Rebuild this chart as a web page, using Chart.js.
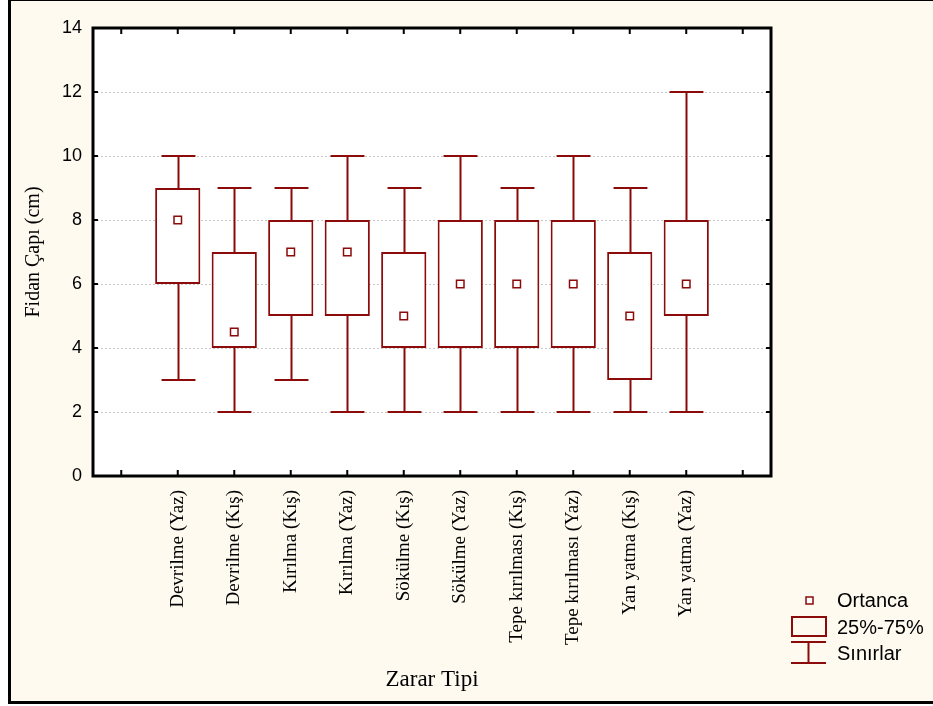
<!DOCTYPE html>
<html lang="tr">
<head>
<meta charset="UTF-8">
<title>Zarar Tipi - Fidan Çapı</title>
<script src="https://cdn.jsdelivr.net/npm/chart.js"></script>
<style>
  html, body { margin: 0; padding: 0; background: #ffffff; }
  #frame {
    position: absolute; left: 8px; top: -2px; width: 940px; height: 706px;
    box-sizing: border-box; border: 3px solid #000; background: #fefaf0;
  }
  #wrap { position: absolute; left: 0; top: 0; width: 933px; height: 706px; }
</style>
</head>
<body>
<div id="frame"></div>
<div id="wrap"><canvas id="myChart" width="933" height="706"></canvas></div>

<script>
// kategoriler (başta ve sonda boş yer var)
const kategoriler = ['', 'Devrilme (Yaz)', 'Devrilme (Kış)', 'Kırılma (Kış)', 'Kırılma (Yaz)',
  'Sökülme (Kış)', 'Sökülme (Yaz)', 'Tepe kırılması (Kış)', 'Tepe kırılması (Yaz)',
  'Yan yatma (Kış)', 'Yan yatma (Yaz)', ''];

// değerler
const enKucuk = [null, 3, 2, 3, 2, 2, 2, 2, 2, 2, 2, null];
const ceyrek1 = [null, 6, 4, 5, 5, 4, 4, 4, 4, 3, 5, null];
const ceyrek3 = [null, 9, 7, 8, 8, 7, 8, 8, 8, 7, 8, null];
const enBuyuk = [null, 10, 9, 9, 10, 9, 10, 9, 10, 9, 12, null];
const ortanca = [null, 8, 4.5, 7, 7, 5, 6, 6, 6, 5, 6, null];

const yTikler = [0, 2, 4, 6, 8, 10, 12, 14];

const KIRMIZI = '#8b0a0a';

// kutular: [Q1, Q3]
const kutular = ceyrek1.map((q, i) => q === null ? null : [q, ceyrek3[i]]);

// çizim alanı arka planı, bıyıklar, çerçeve ve lejant
const kutuGrafigi = {
  id: 'kutuGrafigi',
  beforeDraw(chart) {
    const { ctx, chartArea: a } = chart;
    ctx.save();
    ctx.fillStyle = '#ffffff';
    ctx.fillRect(a.left, a.top, a.right - a.left, a.bottom - a.top);
    ctx.restore();
  },
  beforeDatasetsDraw(chart) {
    const { ctx, scales: { x, y } } = chart;
    const aralik = x.getPixelForValue(1) - x.getPixelForValue(0);
    const kapak = aralik * 0.3;
    ctx.save();
    ctx.strokeStyle = KIRMIZI;
    ctx.lineWidth = 2;
    enKucuk.forEach((mn, i) => {
      if (mn === null) return;
      const cx = Math.round(x.getPixelForValue(i)) + 0.5;
      const yMin = y.getPixelForValue(mn), yQ1 = y.getPixelForValue(ceyrek1[i]);
      const yQ3 = y.getPixelForValue(ceyrek3[i]), yMax = y.getPixelForValue(enBuyuk[i]);
      ctx.beginPath();
      ctx.moveTo(cx, yMin); ctx.lineTo(cx, yQ1);
      ctx.moveTo(cx, yQ3); ctx.lineTo(cx, yMax);
      ctx.moveTo(cx - kapak, yMin); ctx.lineTo(cx + kapak, yMin);
      ctx.moveTo(cx - kapak, yMax); ctx.lineTo(cx + kapak, yMax);
      ctx.stroke();
    });
    ctx.restore();
  },
  afterDraw(chart) {
    const { ctx, chartArea: a, scales: { x, y } } = chart;
    ctx.save();
    // iç tikler
    ctx.strokeStyle = '#000';
    ctx.lineWidth = 2;
    ctx.beginPath();
    kategoriler.forEach((k, i) => {
      const px = x.getPixelForValue(i);
      ctx.moveTo(px, a.bottom); ctx.lineTo(px, a.bottom - 6);
      ctx.moveTo(px, a.top); ctx.lineTo(px, a.top + 6);
    });
    yTikler.forEach(v => {
      const py = y.getPixelForValue(v);
      ctx.moveTo(a.left, py); ctx.lineTo(a.left + 5, py);
      ctx.moveTo(a.right, py); ctx.lineTo(a.right - 5, py);
    });
    ctx.stroke();
    // çerçeve
    ctx.lineWidth = 3;
    ctx.strokeRect(a.left, a.top, a.right - a.left, a.bottom - a.top);

    // lejant
    ctx.strokeStyle = KIRMIZI;
    ctx.lineWidth = 1.5;
    ctx.fillStyle = '#fff';
    ctx.fillRect(806, 597, 7, 7);
    ctx.strokeRect(806, 597, 7, 7);
    ctx.lineWidth = 2;
    ctx.strokeRect(792, 617, 34, 19);
    ctx.beginPath();
    ctx.moveTo(791, 642); ctx.lineTo(826, 642);
    ctx.moveTo(808.5, 642); ctx.lineTo(808.5, 663);
    ctx.moveTo(791, 663); ctx.lineTo(826, 663);
    ctx.stroke();
    ctx.fillStyle = '#000';
    ctx.font = '20px "Liberation Sans", Arial, sans-serif';
    ctx.textBaseline = 'middle';
    ctx.textAlign = 'left';
    ctx.fillText('Ortanca', 837, 601);
    ctx.fillText('25%-75%', 837, 628);
    ctx.fillText('Sınırlar', 837, 654);
    ctx.restore();
  }
};

const ctx = document.getElementById('myChart').getContext('2d');
const grafik = new Chart(ctx, {
  type: 'bar',
  data: {
    labels: kategoriler,
    datasets: [
      {
        type: 'line',
        label: 'Ortanca',
        data: ortanca,
        showLine: false,
        pointStyle: 'rect',
        pointRadius: 5.3,
        pointBackgroundColor: '#ffffff',
        pointBorderColor: KIRMIZI,
        pointBorderWidth: 1.5,
        order: 0
      },
      {
        label: '25%-75%',
        data: kutular,
        backgroundColor: '#ffffff',
        borderColor: KIRMIZI,
        borderWidth: 2,
        borderSkipped: false,
        barPercentage: 0.8,
        categoryPercentage: 1,
        order: 1
      }
    ]
  },
  options: {
    responsive: false,
    animation: false,
    layout: { padding: { top: 28, right: 162, left: 0, bottom: 0 } },
    plugins: { legend: { display: false }, tooltip: { enabled: false } },
    scales: {
      x: {
        offset: true,
        grid: { display: false },
        border: { display: false },
        ticks: {
          autoSkip: false, minRotation: 90, maxRotation: 90, padding: 6,
          color: '#000',
          font: { family: '"Liberation Serif", "Times New Roman", serif', size: 19 }
        },
        title: {
          display: true, text: 'Zarar Tipi', color: '#000',
          font: { family: '"Liberation Serif", "Times New Roman", serif', size: 23 },
          padding: { top: 0, bottom: 12 }
        },
        afterFit: s => { s.height = 230; }
      },
      y: {
        min: 0, max: 14,
        afterBuildTicks: s => { s.ticks = yTikler.map(v => ({ value: v })); },
        grid: {
          color: c => (c.tick.value === 0 || c.tick.value === 14) ? 'rgba(0,0,0,0)' : '#c8c8c8',
          drawTicks: false, lineWidth: 1
        },
        border: { display: false, dash: [2, 2] },
        ticks: {
          padding: 11, color: '#000',
          font: { family: '"Liberation Sans", Arial, sans-serif', size: 18 }
        },
        title: {
          display: true, text: 'Fidan Çapı (cm)', color: '#000',
          font: { family: '"Liberation Serif", "Times New Roman", serif', size: 20 },
          padding: { top: 22, bottom: 0 }
        },
        afterFit: s => { s.width = 93; }
      }
    }
  },
  plugins: [kutuGrafigi]
});
</script>
</body>
</html>
